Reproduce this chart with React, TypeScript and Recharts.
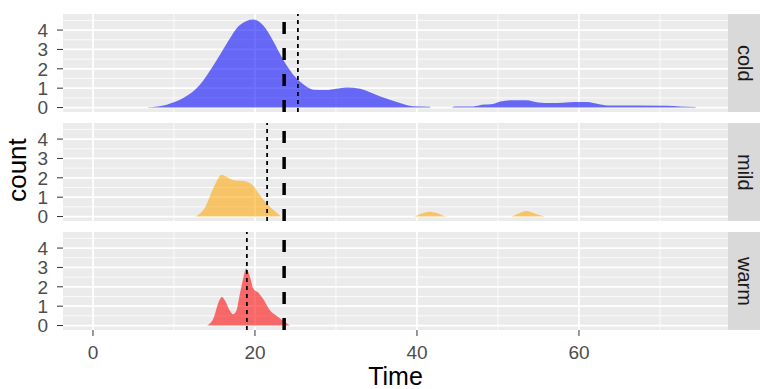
import React from 'react'
import {
  AreaChart,
  Area,
  XAxis,
  YAxis,
  CartesianGrid,
  ReferenceLine
} from 'recharts'

// density curves (Time -> count)
const coldTime = [6.8, 8.0, 9.1, 11.2, 13.2, 14.9, 16.5, 18.1, 19.8, 21.0, 22.3, 23.5, 25.1, 26.3, 27.2, 28.8, 30.0, 31.3, 33.0, 35.4, 37.9, 39.5, 41.6, 41.7, 44.3, 44.6, 47.0, 48.0, 49.5, 50.3, 51.5, 53.5, 55.0, 56.5, 58.0, 59.5, 61.0, 62.5, 64.0, 71.0, 72.5, 74.4]
const coldCount = [0.02, 0.06, 0.15, 0.5, 1.18, 2.2, 3.3, 4.25, 4.55, 4.25, 3.4, 2.46, 1.52, 1.1, 0.92, 0.9, 0.97, 1.04, 0.97, 0.58, 0.24, 0.07, 0.04, 0, 0, 0.05, 0.06, 0.14, 0.2, 0.31, 0.38, 0.38, 0.26, 0.23, 0.25, 0.29, 0.28, 0.17, 0.1, 0.09, 0.05, 0.03]

const mildTime = [12.6, 13.8, 14.9, 15.9, 16.5, 17.3, 18.6, 19.6, 20.4, 21.2, 22.1, 22.9, 23.3, 39.5, 40.5, 41.6, 42.7, 43.7, 51.5, 52.5, 53.5, 54.6, 55.8]
const mildCount = [0, 0.44, 1.5, 2.16, 2.05, 1.88, 1.84, 1.67, 1.23, 0.79, 0.4, 0.12, 0, 0, 0.15, 0.25, 0.15, 0, 0, 0.15, 0.28, 0.15, 0]

const warmTime = [14.1, 14.9, 15.5, 15.9, 16.3, 16.9, 17.3, 17.7, 18.1, 18.6, 18.9, 19.3, 19.8, 20.4, 21.0, 21.9, 22.7, 23.5, 24.3]
const warmCount = [0, 0.4, 1.2, 1.47, 1.29, 0.76, 0.58, 0.76, 1.56, 2.53, 2.94, 2.62, 1.91, 1.7, 1.38, 0.76, 0.49, 0.23, 0]

const groups = ['cold', 'mild', 'warm']
const groupMeans = [25.3, 21.5, 19.0]
const overallMean = 23.6

const xTicks = [0, 20, 40, 60]
const xMinor = [10, 30, 50, 70]
const yTicks = [0, 1, 2, 3, 4]
const yMinor = [0.5, 1.5, 2.5, 3.5, 4.5]

const X_DOMAIN: [number, number] = [-3.7, 78.4]
const Y_DOMAIN: [number, number] = [-0.23, 4.83]

const FILLS = ['#0000FF', '#FFA500', '#FF0000']
const PANEL_TOPS = [14, 123, 232]
const PANEL_H = 98
const PLOT_LEFT = 63
const PLOT_RIGHT = 728
const AXIS_H = 34
const PAD = 10

const series = [
  coldTime.map((t, i) => ({ t, count: coldCount[i] })),
  mildTime.map((t, i) => ({ t, count: mildCount[i] })),
  warmTime.map((t, i) => ({ t, count: warmCount[i] }))
]

const tickStyle = { fontSize: 19, fill: '#4D4D4D' }

const Panel = ({ idx }: { idx: number }) => {
  const last = idx === groups.length - 1
  return (
    <div style={{ position: 'absolute', left: 0, top: PANEL_TOPS[idx] - PAD }}>
      <AreaChart
        width={PLOT_RIGHT}
        height={PANEL_H + PAD + (last ? AXIS_H : PAD)}
        data={series[idx]}
        margin={{ top: PAD, right: 0, bottom: last ? 0 : PAD, left: 0 }}
      >
        <CartesianGrid
          fill="#EBEBEB"
          stroke="#FFFFFF"
          strokeWidth={0.8}
          horizontalValues={yMinor}
          verticalValues={xMinor}
        />
        <CartesianGrid
          stroke="#FFFFFF"
          strokeWidth={1.7}
          horizontalValues={yTicks}
          verticalValues={xTicks}
        />
        <XAxis
          dataKey="t"
          type="number"
          domain={X_DOMAIN}
          ticks={xTicks}
          interval={0}
          allowDataOverflow
          hide={!last}
          height={AXIS_H}
          axisLine={false}
          tickSize={6}
          tickMargin={10}
          tickLine={{ stroke: '#333333' }}
          tick={tickStyle}
        />
        <YAxis
          type="number"
          domain={Y_DOMAIN}
          ticks={yTicks}
          interval={0}
          allowDataOverflow
          width={PLOT_LEFT}
          axisLine={false}
          tickSize={6}
          tickMargin={9}
          tickLine={{ stroke: '#333333' }}
          tick={tickStyle}
        />
        <Area
          type="monotone"
          dataKey="count"
          stroke="none"
          fill={FILLS[idx]}
          fillOpacity={0.56}
          baseValue={0}
          isAnimationActive={false}
        />
        <ReferenceLine x={overallMean} stroke="#000000" strokeWidth={3.5} strokeDasharray="12 14" />
        <ReferenceLine x={groupMeans[idx]} stroke="#000000" strokeWidth={1.8} strokeDasharray="4 4" />
      </AreaChart>
      <div
        style={{
          position: 'absolute',
          left: PLOT_RIGHT,
          top: PAD,
          width: 760 - PLOT_RIGHT,
          height: PANEL_H,
          background: '#D9D9D9',
          color: '#1A1A1A',
          fontSize: 20,
          writingMode: 'vertical-rl',
          display: 'flex',
          alignItems: 'center',
          justifyContent: 'center'
        }}
      >
        {groups[idx]}
      </div>
    </div>
  )
}

export default function App() {
  return (
    <div
      style={{
        position: 'absolute',
        left: 0,
        top: 0,
        width: 760,
        height: 389,
        background: '#FFFFFF',
        fontFamily: '"Liberation Sans", Arial, sans-serif',
        overflow: 'hidden'
      }}
    >
      {groups.map((g, i) => (
        <Panel key={g} idx={i} />
      ))}
      <div
        style={{
          position: 'absolute',
          left: 17,
          top: 170,
          transform: 'translate(-50%, -50%) rotate(-90deg)',
          fontSize: 26,
          lineHeight: '26px',
          color: '#000000',
          whiteSpace: 'nowrap'
        }}
      >
        count
      </div>
      <div
        style={{
          position: 'absolute',
          left: (PLOT_LEFT + PLOT_RIGHT) / 2,
          top: 376,
          transform: 'translate(-50%, -50%)',
          fontSize: 25,
          lineHeight: '25px',
          color: '#000000',
          whiteSpace: 'nowrap'
        }}
      >
        Time
      </div>
    </div>
  )
}
